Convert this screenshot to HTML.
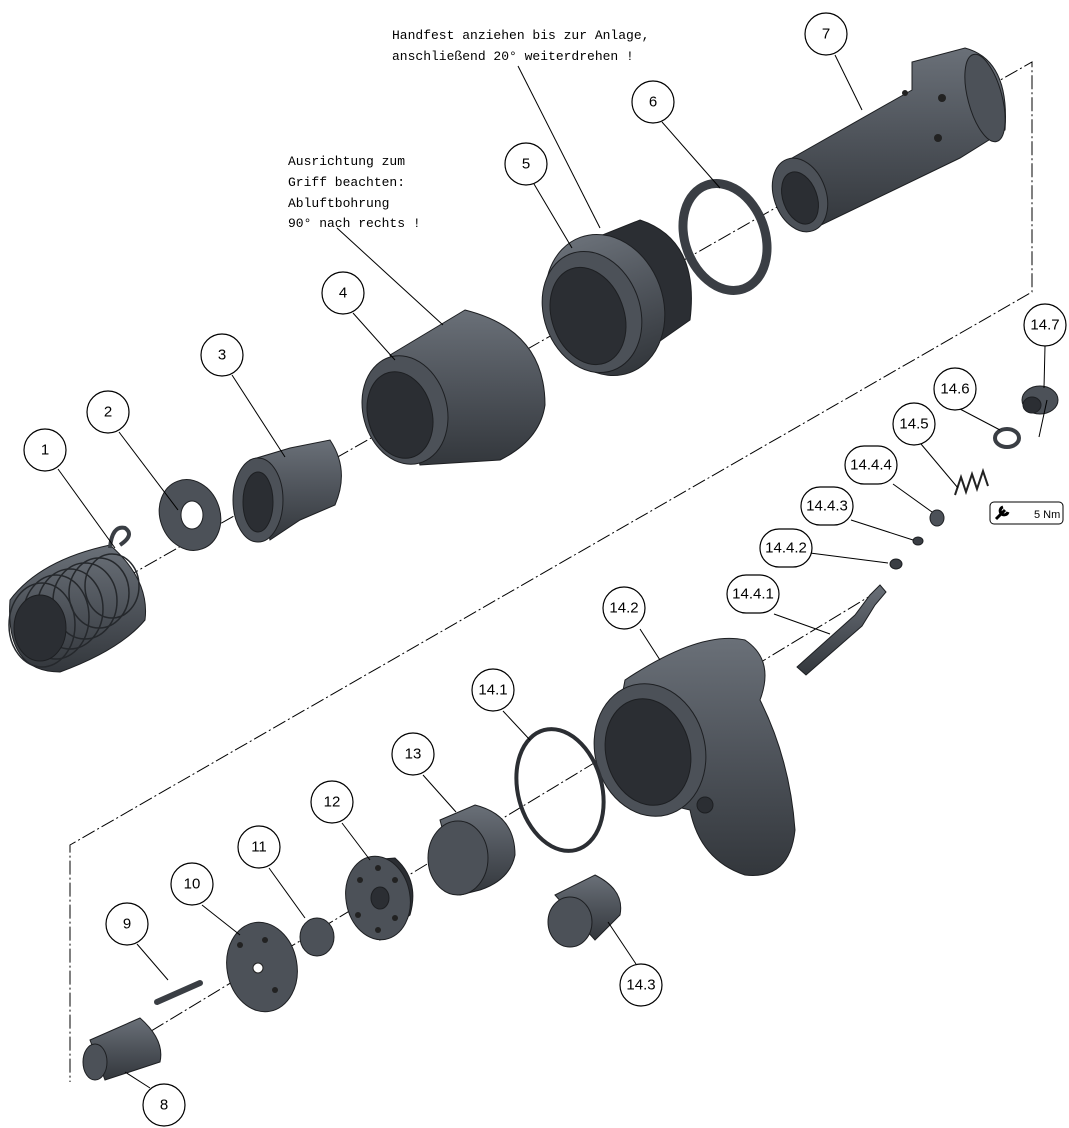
<!DOCTYPE html>
<html><head><meta charset="utf-8"><style>
html,body{margin:0;padding:0;background:#fff;}
svg{display:block;}
.c{fill:#fff;stroke:#000;stroke-width:1.2}
.t{font-family:"Liberation Sans",sans-serif;font-size:15px;text-anchor:middle;dominant-baseline:central;fill:#000}
.n{font-family:"Liberation Mono",monospace;font-size:13px;fill:#000}
.l{stroke:#000;stroke-width:1;fill:none}
.dd{stroke:#000;stroke-width:1;fill:none;stroke-dasharray:14 3 2 3}
.p{fill:#4c5158;stroke:#1d1f22;stroke-width:1}
.d{fill:#3a3e44;stroke:#1d1f22;stroke-width:1}
.h{fill:#2b2e33;stroke:#1d1f22;stroke-width:1}
</style></head><body>
<svg width="1069" height="1128" viewBox="0 0 1069 1128" xmlns="http://www.w3.org/2000/svg">
<defs>
<linearGradient id="g" x1="0" y1="0" x2="0" y2="1"><stop offset="0" stop-color="#6a7078"/><stop offset="0.5" stop-color="#4e535a"/><stop offset="1" stop-color="#33373c"/></linearGradient>
</defs>
<path class="dd" d="M30 632 L1032 62 L1032 292 L70 845 L70 1082"/>
<path class="dd" d="M95 1065 L880 590"/>
<!-- part 7 -->
<path fill="url(#g)" stroke="#1d1f22" d="M785 162 L912 90 L912 62 L965 48 Q1010 60 1005 130 L960 158 L815 228 Z"/>
<ellipse class="p" cx="800" cy="195" rx="26" ry="38" transform="rotate(-20 800 195)"/>
<ellipse class="h" cx="800" cy="198" rx="17" ry="27" transform="rotate(-20 800 198)"/>
<ellipse class="p" cx="985" cy="98" rx="17" ry="45" transform="rotate(-15 985 98)"/>
<circle cx="942" cy="98" r="4" fill="#222"/><circle cx="938" cy="138" r="4" fill="#222"/><circle cx="905" cy="93" r="3" fill="#222"/>
<!-- part 6 -->
<ellipse cx="725" cy="237" rx="40" ry="55" fill="none" stroke="#3a3e44" stroke-width="9" transform="rotate(-20 725 237)"/>
<!-- part 5 -->
<path class="h" d="M590 240 L640 220 Q700 240 690 320 L640 355 Z"/>
<ellipse fill="url(#g)" stroke="#1d1f22" cx="605" cy="305" rx="58" ry="72" transform="rotate(-20 605 305)"/>
<ellipse class="p" cx="592" cy="312" rx="48" ry="62" transform="rotate(-20 592 312)"/>
<ellipse class="h" cx="588" cy="316" rx="36" ry="50" transform="rotate(-20 588 316)"/>
<!-- part 4 -->
<path fill="url(#g)" stroke="#1d1f22" d="M390 355 L465 310 Q545 330 545 405 Q540 440 500 460 L420 465 Z"/>
<ellipse class="p" cx="405" cy="410" rx="42" ry="55" transform="rotate(-15 405 410)"/>
<ellipse class="h" cx="400" cy="415" rx="32" ry="44" transform="rotate(-15 400 415)"/>
<!-- part 3 -->
<path fill="url(#g)" stroke="#1d1f22" d="M250 460 L290 448 L330 440 Q350 470 335 505 L300 520 L270 540 Z"/>
<ellipse class="p" cx="258" cy="500" rx="25" ry="42"/>
<ellipse class="h" cx="258" cy="502" rx="15" ry="30"/>
<!-- part 2 -->
<ellipse class="p" cx="190" cy="515" rx="30" ry="36" transform="rotate(-20 190 515)"/>
<ellipse fill="#fff" stroke="#1d1f22" cx="192" cy="515" rx="11" ry="14"/>
<!-- part 1 spring -->
<path fill="url(#g)" stroke="#1d1f22" d="M10 600 Q40 560 110 545 Q150 580 145 620 Q120 650 60 672 Q5 672 10 600Z"/>
<g fill="none" stroke="#25282c" stroke-width="1.5">
<ellipse cx="42" cy="625" rx="33" ry="42"/><ellipse cx="56" cy="617" rx="33" ry="42"/><ellipse cx="70" cy="609" rx="33" ry="40"/><ellipse cx="85" cy="601" rx="32" ry="38"/><ellipse cx="99" cy="593" rx="30" ry="35"/><ellipse cx="112" cy="586" rx="27" ry="32"/></g>
<ellipse class="h" cx="40" cy="628" rx="26" ry="33"/>
<path d="M110 548 Q112 525 125 528 Q135 535 120 545" fill="none" stroke="#3a3e44" stroke-width="4"/>
<!-- 14.7 -->
<ellipse class="p" cx="1040" cy="400" rx="18" ry="14"/><ellipse class="h" cx="1032" cy="405" rx="9" ry="8"/>
<ellipse cx="1007" cy="438" rx="12" ry="9" fill="none" stroke="#3a3e44" stroke-width="4"/>
<path d="M955 495 l6 -18 l5 15 l6 -18 l5 15 l6 -18 l5 15" fill="none" stroke="#222" stroke-width="2"/>
<ellipse class="p" cx="937" cy="518" rx="7" ry="8"/>
<ellipse class="d" cx="918" cy="541" rx="5" ry="4"/>
<ellipse class="d" cx="896" cy="564" rx="6" ry="5"/>
<path fill="url(#g)" stroke="#1d1f22" d="M797 667 L855 615 L870 595 L880 585 L886 592 L875 605 L862 626 L806 675 Z"/>
<!-- 14.2 body -->
<path fill="url(#g)" stroke="#1d1f22" d="M625 680 Q700 630 745 640 Q775 660 760 700 Q790 760 795 830 Q790 880 745 875 Q700 860 690 810 Q640 800 610 760 Z"/>
<ellipse class="p" cx="650" cy="750" rx="55" ry="67" transform="rotate(-15 650 750)"/>
<ellipse class="h" cx="648" cy="752" rx="42" ry="54" transform="rotate(-15 648 752)"/>
<ellipse class="h" cx="705" cy="805" rx="8" ry="8"/>
<ellipse cx="560" cy="790" rx="42" ry="62" fill="none" stroke="#2b2e33" stroke-width="4" transform="rotate(-15 560 790)"/>
<path fill="url(#g)" stroke="#1d1f22" d="M555 895 L595 875 Q625 890 620 915 L595 940 Z"/>
<ellipse class="p" cx="570" cy="922" rx="22" ry="25"/>
<path fill="url(#g)" stroke="#1d1f22" d="M440 820 L475 805 Q515 815 515 855 Q510 880 480 890 L460 895 Z"/>
<ellipse class="p" cx="458" cy="858" rx="30" ry="37"/>
<path class="h" d="M370 860 L395 858 Q420 880 410 915 L380 940 Z"/>
<ellipse class="p" cx="378" cy="898" rx="32" ry="42" transform="rotate(-10 378 898)"/>
<ellipse class="h" cx="380" cy="898" rx="9" ry="11"/>
<g fill="#222"><circle cx="360" cy="880" r="3"/><circle cx="395" cy="880" r="3"/><circle cx="358" cy="915" r="3"/><circle cx="395" cy="918" r="3"/><circle cx="378" cy="868" r="3"/><circle cx="378" cy="930" r="3"/></g>
<ellipse class="p" cx="317" cy="937" rx="17" ry="19"/>
<ellipse class="p" cx="262" cy="967" rx="35" ry="45" transform="rotate(-10 262 967)"/>
<circle cx="258" cy="968" r="5" fill="#fff" stroke="#222"/>
<g fill="#222"><circle cx="240" cy="945" r="3"/><circle cx="265" cy="940" r="3"/><circle cx="275" cy="990" r="3"/></g>
<path d="M157 1002 L200 983" stroke="#3a3e44" stroke-width="6" stroke-linecap="round"/>
<path fill="url(#g)" stroke="#1d1f22" d="M90 1040 L140 1018 Q165 1040 160 1062 L105 1080 Z"/>
<ellipse class="p" cx="95" cy="1062" rx="12" ry="18"/>
<g class="l">
<path d="M58 469 L115 548"/><path d="M119 432 L178 510"/><path d="M232 375 L285 457"/><path d="M353 313 L395 360"/><path d="M534 184 L572 248"/><path d="M662 122 L720 188"/><path d="M835 55 L862 110"/>
<path d="M518 66 L600 228"/><path d="M337 228 L443 325"/>
<path d="M1045 346 L1044 388"/><path d="M960 409 L1000 430"/><path d="M921 444 L958 488"/><path d="M893 484 L932 512"/><path d="M851 520 L913 540"/><path d="M810 553 L888 563"/><path d="M774 614 L830 634"/>
<path d="M640 629 L660 660"/><path d="M503 711 L530 740"/><path d="M423 775 L456 812"/><path d="M342 823 L370 860"/><path d="M269 868 L305 918"/><path d="M202 905 L240 935"/><path d="M137 944 L168 980"/><path d="M150 1088 L125 1072"/><path d="M636 964 L608 922"/>
<path d="M1039 437 L1047 400"/>
</g>
<g>
<circle class="c" cx="45" cy="450" r="21"/><text class="t" x="45" y="450">1</text>
<circle class="c" cx="108" cy="412" r="21"/><text class="t" x="108" y="412">2</text>
<circle class="c" cx="222" cy="355" r="21"/><text class="t" x="222" y="355">3</text>
<circle class="c" cx="343" cy="293" r="21"/><text class="t" x="343" y="293">4</text>
<circle class="c" cx="526" cy="164" r="21"/><text class="t" x="526" y="164">5</text>
<circle class="c" cx="653" cy="102" r="21"/><text class="t" x="653" y="102">6</text>
<circle class="c" cx="826" cy="34" r="21"/><text class="t" x="826" y="34">7</text>
<circle class="c" cx="1045" cy="325" r="21"/><text class="t" x="1045" y="325">14.7</text>
<circle class="c" cx="955" cy="389" r="21"/><text class="t" x="955" y="389">14.6</text>
<circle class="c" cx="914" cy="424" r="21"/><text class="t" x="914" y="424">14.5</text>
<rect class="c" x="845" y="446" width="52" height="38" rx="19"/><text class="t" x="871" y="465">14.4.4</text>
<rect class="c" x="801" y="487" width="52" height="38" rx="19"/><text class="t" x="827" y="506">14.4.3</text>
<rect class="c" x="760" y="529" width="52" height="38" rx="19"/><text class="t" x="786" y="548">14.4.2</text>
<rect class="c" x="727" y="575" width="52" height="38" rx="19"/><text class="t" x="753" y="594">14.4.1</text>
<circle class="c" cx="624" cy="608" r="21"/><text class="t" x="624" y="608">14.2</text>
<circle class="c" cx="493" cy="690" r="21"/><text class="t" x="493" y="690">14.1</text>
<circle class="c" cx="413" cy="754" r="21"/><text class="t" x="413" y="754">13</text>
<circle class="c" cx="332" cy="802" r="21"/><text class="t" x="332" y="802">12</text>
<circle class="c" cx="259" cy="847" r="21"/><text class="t" x="259" y="847">11</text>
<circle class="c" cx="192" cy="884" r="21"/><text class="t" x="192" y="884">10</text>
<circle class="c" cx="127" cy="924" r="21"/><text class="t" x="127" y="924">9</text>
<circle class="c" cx="164" cy="1105" r="21"/><text class="t" x="164" y="1105">8</text>
<circle class="c" cx="641" cy="985" r="21"/><text class="t" x="641" y="985">14.3</text>
</g>
<rect x="990" y="502" width="73" height="22" rx="4" fill="#fff" stroke="#000"/>
<path d="M996 519 L1005 510 M1003 507 a4 4 0 1 0 5 5" stroke="#000" stroke-width="3" fill="none"/>
<text x="1034" y="518" font-family="Liberation Sans,sans-serif" font-size="11">5 Nm</text>
<text class="n" x="392" y="39">Handfest anziehen bis zur Anlage,</text>
<text class="n" x="392" y="60">anschließend 20° weiterdrehen !</text>
<text class="n" x="288" y="165">Ausrichtung zum</text>
<text class="n" x="288" y="186">Griff beachten:</text>
<text class="n" x="288" y="207">Abluftbohrung</text>
<text class="n" x="288" y="227">90° nach rechts !</text>
</svg>
</body></html>
